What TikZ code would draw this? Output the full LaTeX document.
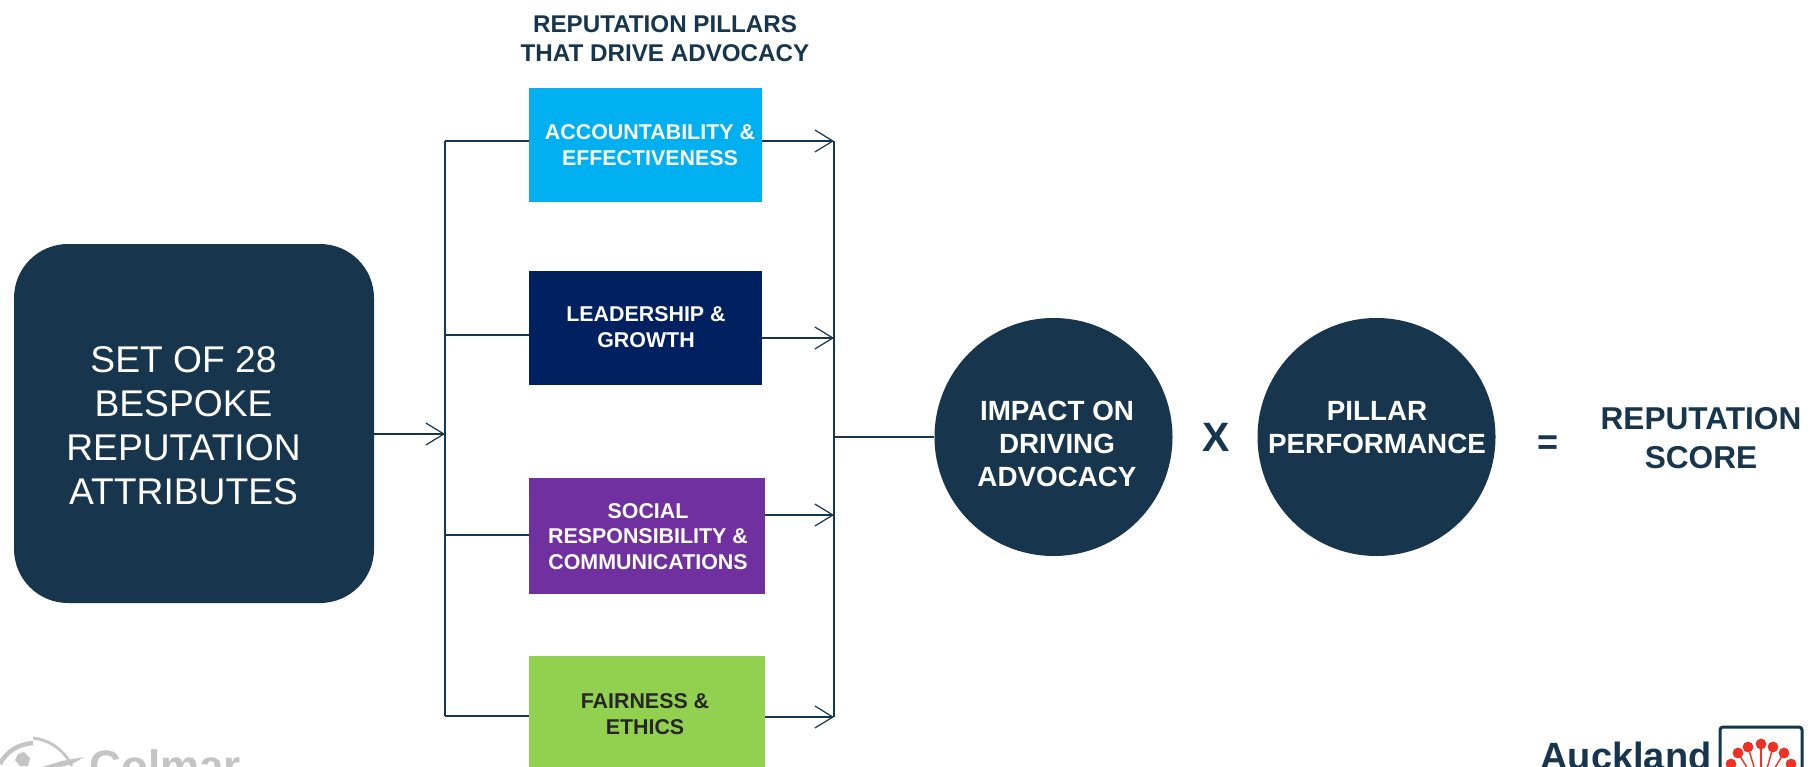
\documentclass[tikz,border=0pt]{standalone}
\usepackage{fontspec}
\setmainfont{Liberation Sans}
\usetikzlibrary{arrows.meta}
\definecolor{dark}{HTML}{17364D}
\definecolor{pblue}{HTML}{00B0F0}
\definecolor{pnavy}{HTML}{002060}
\definecolor{ppurple}{HTML}{7030A0}
\definecolor{pgreen}{HTML}{92D050}
\definecolor{lgray}{HTML}{C4C4C4}
\definecolor{lred}{HTML}{EE3124}
\newcommand{\fs}[2]{\fontsize{#1}{#2}\selectfont}
\tikzset{
  pillar/.style={draw=none,inner sep=0pt,minimum height=57pt,align=center,font=\bfseries\fs{10.7}{12.9},text=white},
  round disc/.style={circle,fill=dark,minimum size=119pt,inner sep=0pt},
  disc text/.style={text=white,align=center,inner sep=0pt,font=\bfseries\fs{13.9}{16.6}},
  link/.style={draw=dark,line width=0.8pt},
  arrowlink/.style={link,-{Straight Barb[length=9pt,width=11pt,line width=0.6pt]}},
  label/.style={text=dark,align=center,inner sep=0pt,font=\bfseries}
}
\begin{document}
\begin{tikzpicture}[x=0.5pt,y=-0.5pt]
\useasboundingbox (0,0) rectangle (1820,766);
\fill[white] (0,0) rectangle (1820,766);
% main box
\node[fill=dark,rounded corners=27pt,minimum width=180pt,minimum height=179.5pt,inner sep=0pt] (attrs) at (194,423.5) {};
\node[text=white,align=center,inner sep=0pt,font=\fs{18.6}{22}] (attrtext) at (183.5,426) {SET OF 28\\BESPOKE\\REPUTATION\\ATTRIBUTES};
% title
\node[label,font=\bfseries\fs{12.1}{14.4}] (title) at (665,38.5) {REPUTATION PILLARS\\THAT DRIVE ADVOCACY};
% pillars
\node[pillar,fill=pblue,minimum width=116.5pt] (p1) at (645.5,145) {};
\node[pillar] (p1t) at (650,145.5) {ACCOUNTABILITY \&\\EFFECTIVENESS};
\node[pillar,fill=pnavy,minimum width=116.5pt] (p2) at (645.5,328) {};
\node[pillar] (p2t) at (646,327) {LEADERSHIP \&\\GROWTH};
\node[pillar,fill=ppurple,minimum width=118pt,minimum height=58pt] (p3) at (647,536) {};
\node[pillar] (p3t) at (648,536.5) {SOCIAL\\RESPONSIBILITY \&\\COMMUNICATIONS};
\node[pillar,fill=pgreen,minimum width=118pt,minimum height=60pt] (p4) at (647,716) {};
\node[pillar,text=black!85] (p4t) at (645,714.5) {FAIRNESS \&\\ETHICS};
% circles
\node[round disc] (c1) at (1053.5,437) {};
\node[disc text] (c1t) at (1057,444) {IMPACT ON\\DRIVING\\ADVOCACY};
\node[round disc] (c2) at (1376.5,437) {};
\node[disc text] (c2t) at (1377,427.5) {PILLAR\\PERFORMANCE};
\node[label,font=\bfseries\fs{20.5}{24}] (times) at (1216,437) {X};
\node[label,font=\bfseries\fs{18}{20}] (equals) at (1548,445) {=};
\node[label,font=\bfseries\fs{15.8}{19.7}] (score) at (1701,438) {REPUTATION\\SCORE};
% trunks
\coordinate (la) at (445,141); \coordinate (lb) at (445,335);
\coordinate (lc) at (445,535); \coordinate (ld) at (445,716);
\coordinate (lm) at (445,434);
\coordinate (ra) at (834,141); \coordinate (rb) at (834,338);
\coordinate (rc) at (834,515); \coordinate (rd) at (834,717);
\coordinate (rm) at (834,437);
\draw[link] (la) -- (ld);
\draw[link] (ra) -- (rd);
\draw[link] (la) -- (la -| p1.west);
\draw[link] (lb) -- (lb -| p2.west);
\draw[link] (lc) -- (lc -| p3.west);
\draw[link] (ld) -- (ld -| p4.west);
\draw[arrowlink] (lm -| attrs.east) -- (lm);
\draw[arrowlink] (ra -| p1.east) -- (ra);
\draw[arrowlink] (rb -| p2.east) -- (rb);
\draw[arrowlink] (rc -| p3.east) -- (rc);
\draw[arrowlink] (rd -| p4.east) -- (rd);
\draw[link] (rm) -- (c1.west);
% logos, cut by the page edge
\begin{scope}
\clip (0,0) rectangle (1820,766);
\node[anchor=base west,inner sep=0pt,text=lgray,font=\bfseries\fs{22}{24}] (colmar) at (89,781) {Colmar};
\draw[lgray,line width=2.2pt] (0,764) .. controls (6,752) and (18,744) .. (33,743);
\draw[lgray,line width=1.4pt] (33,738) .. controls (50,740) and (64,750) .. (72,766);
\fill[lgray] (42,767) -- (62,761) -- (84,757) -- (72,764) -- (60,767) -- cycle;
\fill[lgray] (18,754) -- (24,752) -- (30,758) -- (28,766) -- (20,766) -- (15,760) -- cycle;
\node[anchor=base west,inner sep=0pt,text=dark,font=\bfseries\fs{19}{22}] (auck) at (1540,769) {Auckland};
\draw[dark,line width=1.5pt,rounded corners=1.5pt] (1720,780) -- (1720,727) -- (1802,727) -- (1802,780);
\foreach \dx/\dy in {1761/744,1748/747,1773/747,1738/753,1784/753,1731/764,1791/764}{
  \draw[lred,line width=0.7pt] (\dx,\dy) -- (1761,790);
  \fill[lred] (\dx,\dy) circle (2.7pt);
}
\end{scope}
\end{tikzpicture}
\end{document}
